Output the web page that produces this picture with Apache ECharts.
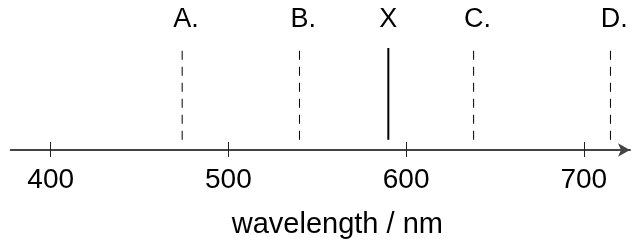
<!DOCTYPE html>
<html>
<head>
<meta charset="utf-8">
<script src="https://cdn.jsdelivr.net/npm/echarts@6/dist/echarts.min.js"></script>
<style>
  html, body { margin: 0; padding: 0; background: #fff; }
  #chart { width: 632px; height: 241px; }
</style>
</head>
<body>
<div id="chart"></div>
<script>
const markerNames = ["A.", "B.", "X", "C.", "D."]
const markerValues = [474, 540, 590, 638, 715]
const tickValues = [400, 500, 600, 700]

const font = "'Liberation Sans', Arial, sans-serif"
const axisMin = 377.5
const axisMax = 726

const chart = echarts.init(document.getElementById("chart"))

const lineSeries = markerNames.map((name, i) => {
  const solid = name === "X"
  return {
    type: "line",
    silent: true,
    symbol: "none",
    data: [[markerValues[i], 0.1], [markerValues[i], 1]],
    lineStyle: {
      color: "#000",
      width: solid ? 2 : 1,
      type: solid ? "solid" : [9, 7],
    },
  }
})

// letters sit over their line, the trailing dot hangs to the right
const labelSeries = {
  type: "scatter",
  silent: true,
  clip: false,
  symbolSize: 0,
  itemStyle: {color: "#000", opacity: 1},
  data: markerNames.map((name, i) => ({
    value: [markerValues[i], 1.279],
    label: {
      offset: [name.endsWith(".") ? 3.8 : 0, 0],
    },
  })),
  label: {
    show: true,
    position: "inside",
    color: "#000",
    textBorderWidth: 0,
    textBorderColor: "transparent",
    fontSize: 27,
    fontFamily: font,
    formatter: (p) => markerNames[p.dataIndex],
  },
}

chart.setOption({
  animation: false,
  grid: {left: 10.7, right: 2, top: 48, bottom: 91},
  xAxis: [
    {
      type: "value",
      min: axisMin,
      max: axisMax,
      name: "wavelength / nm",
      nameLocation: "middle",
      nameGap: 60,
      nameTextStyle: {
        color: "#000",
        fontSize: 29,
        fontFamily: font,
        padding: [0, 0, 0, 34],
      },
      axisLine: {
        lineStyle: {color: "#444", width: 2},
        symbol: ["none", "arrow"],
        symbolSize: [10, 12],
      },
      axisTick: {
        inside: true,
        length: 8,
        customValues: tickValues,
        lineStyle: {color: "#222", width: 1},
      },
      axisLabel: {
        customValues: tickValues,
        margin: 16,
        color: "#000",
        fontSize: 28,
        fontFamily: font,
      },
      splitLine: {show: false},
    },
    {
      type: "value",
      position: "bottom",
      min: axisMin,
      max: axisMax,
      axisLine: {show: false},
      axisTick: {
        show: true,
        length: 7,
        customValues: tickValues,
        lineStyle: {color: "#222", width: 1},
      },
      axisLabel: {show: false},
      splitLine: {show: false},
    },
  ],
  yAxis: {
    type: "value",
    min: 0,
    max: 1,
    show: false,
  },
  series: [...lineSeries, labelSeries],
})
</script>
</body>
</html>
